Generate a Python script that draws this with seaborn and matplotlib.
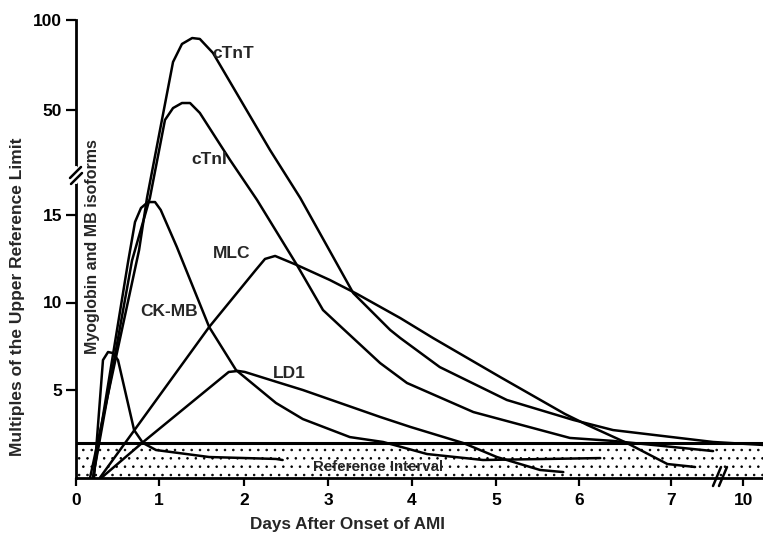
import numpy as np
import pandas as pd
import matplotlib
matplotlib.use("Agg")
import matplotlib.pyplot as plt
from matplotlib.lines import Line2D
import seaborn as sns

# ---------------- data (days after onset, multiples of URL) ----------------
ctnt_x = [0.17, 0.76, 0.855, 1.165, 1.27, 1.39, 1.48, 1.635, 2.31, 2.67, 3.30, 3.74, 3.86, 4.33, 5.13, 5.93, 6.37, 8.75, 10.83]
ctnt_y = [0.0, 13.0, 15.97, 76.4, 86.4, 89.7, 89.2, 81.4, 31.0, 15.97, 10.54, 8.43, 7.97, 6.31, 4.43, 3.29, 2.71, 2.03, 1.86]

ctni_x = [0.205, 0.675, 0.89, 1.07, 1.165, 1.27, 1.365, 1.48, 1.835, 2.155, 2.63, 2.94, 3.17, 3.62, 3.94, 4.73, 5.89, 6.37, 8.75]
ctni_y = [0.0, 12.4, 15.97, 45.1, 50.8, 53.6, 53.6, 48.4, 26.4, 15.86, 12.14, 9.57, 8.54, 6.54, 5.40, 3.74, 2.26, 2.09, 1.51]

ckmb_x = [0.205, 0.627, 0.711, 0.783, 0.867, 0.952, 1.02, 1.21, 1.59, 1.906, 2.38, 2.70, 3.26, 3.655, 4.18, 4.845, 6.23]
ckmb_y = [0.0, 12.31, 14.6, 15.4, 15.74, 15.74, 15.29, 13.17, 8.6, 6.14, 4.26, 3.34, 2.31, 2.03, 1.34, 1.0, 1.11]

mlc_x = [0.29, 1.59, 2.14, 2.25, 2.37, 2.63, 3.02, 3.345, 3.86, 4.25, 5.05, 5.83, 6.09, 6.52, 6.96, 8.0]
mlc_y = [0.0, 8.6, 11.86, 12.49, 12.66, 12.14, 11.29, 10.49, 9.11, 7.97, 5.74, 3.63, 3.0, 1.97, 0.77, 0.6]

ld1_x = [0.31, 0.81, 1.82, 1.93, 2.01, 2.39, 2.70, 3.62, 3.98, 4.61, 5.01, 5.53, 5.81]
ld1_y = [0.0, 2.03, 6.03, 6.09, 6.03, 5.46, 5.0, 3.46, 2.89, 1.97, 1.17, 0.43, 0.31]

myo_x = [0.217, 0.325, 0.386, 0.446, 0.506, 0.70, 0.807, 0.964, 1.59, 2.38, 2.46]
myo_y = [0.0, 6.71, 7.17, 7.11, 6.71, 2.71, 1.97, 1.57, 1.17, 1.06, 1.0]

x_ticks = [0, 1, 2, 3, 4, 5, 6, 7, 10]
x_tick_labels = ["0", "1", "2", "3", "4", "5", "6", "7", "10"]
y_ticks = [5, 10, 15, 50, 100]
y_tick_labels = ["5", "10", "15", "50", "100"]
ref_upper = 2.0

series = {"cTnT": (ctnt_x, ctnt_y), "cTnI": (ctni_x, ctni_y), "CK-MB": (ckmb_x, ckmb_y),
          "MLC": (mlc_x, mlc_y), "LD1": (ld1_x, ld1_y), "Myoglobin": (myo_x, myo_y)}
df = pd.concat([pd.DataFrame({"day": v[0], "mult": v[1], "marker": k}) for k, v in series.items()],
               ignore_index=True)

# ---------------- broken (piecewise linear) scales ----------------
xk_d = np.array([-10, 0, 1, 2, 3, 4, 5, 6, 7, 10, 50], float)
xk_p = np.array([-830, 0, 83, 168, 252, 336, 420, 503, 595, 667, 667 + 40 * 24], float)
yk_d = np.array([-10, 0, 17, 50, 100, 1000], float)
yk_p = np.array([-175, 0, 297.5, 368, 458, 458 + 900 * 1.8], float)

def fx(v): return np.interp(np.asarray(v, float), xk_d, xk_p)
def ix(v): return np.interp(np.asarray(v, float), xk_p, xk_d)
def fy(v): return np.interp(np.asarray(v, float), yk_d, yk_p)
def iy(v): return np.interp(np.asarray(v, float), yk_p, yk_d)

# ---------------- figure ----------------
sns.set_style("ticks")
plt.rcParams["font.family"] = ["Liberation Sans", "DejaVu Sans"]
plt.rcParams["font.weight"] = "bold"
plt.rcParams["hatch.linewidth"] = 0.6
plt.rcParams["hatch.color"] = "black"

W, H = 763, 536
fig = plt.figure(figsize=(W / 100, H / 100), dpi=100)
ax = fig.add_axes([76 / W, (H - 477.5) / H, (W - 76) / W, (477.5 - 19.5) / H])
ax.set_xscale("function", functions=(fx, ix))
ax.set_yscale("function", functions=(fy, iy))
ax.set_xlim(0, 10.83)
ax.set_ylim(0, 100)

ax.axhspan(0, ref_upper, facecolor="white", edgecolor="black", hatch="..", linewidth=0, zorder=0)
ax.axhline(ref_upper, color="black", lw=2.2, zorder=3)

sns.lineplot(data=df, x="day", y="mult", units="marker", estimator=None, sort=False,
             color="black", lw=1.8, legend=False, ax=ax)

for s in ["top", "right"]:
    ax.spines[s].set_visible(False)
for s in ["left", "bottom"]:
    ax.spines[s].set_linewidth(2.0)
    ax.spines[s].set_color("black")

ax.set_xticks(x_ticks)
ax.set_xticklabels(x_tick_labels)
ax.set_yticks(y_ticks)
ax.set_yticklabels(y_tick_labels)
ax.minorticks_off()
ax.tick_params(axis="x", length=6, width=1.6, pad=5, labelsize=12.5, colors="black")
ax.tick_params(axis="y", length=7, width=1.6, pad=3, labelsize=12.5, colors="black")

ax.set_xlabel("Days After Onset of AMI", fontsize=12.3, fontweight="bold")
ax.set_ylabel("Multiples of the Upper Reference Limit", fontsize=12.5, fontweight="bold")
ax.xaxis.set_label_coords((347 - 76) / 687, (477.5 - 524) / 458)
ax.xaxis.label.set_va("center")
ax.yaxis.set_label_coords((18 - 76) / 687, (477.5 - 297) / 458)
ax.yaxis.label.set_va("center")

def ft(px, py, s, **kw):
    fig.text(px / W, 1 - py / H, s, ha="center", va="center", fontsize=kw.pop("fontsize", 12.5),
             fontweight="bold", **kw)

ft(233, 53, "cTnT")
ft(209, 160, "cTnI")
ft(232, 254, "MLC")
ft(169, 312, "CK-MB")
ft(289, 373, "LD1")
ft(378, 467, "Reference Interval", fontsize=10.8)
ft(93, 247, "Myoglobin and MB isoforms", rotation=90, fontsize=11.5)

def seg(x1, y1, x2, y2, **kw):
    fig.add_artist(Line2D([x1 / W, x2 / W], [1 - y1 / H, 1 - y2 / H], **kw))

# axis break marks
seg(76, 168, 76, 182, color="white", lw=3)
seg(70, 178, 81, 167, color="black", lw=1.8)
seg(71, 184, 82, 173, color="black", lw=1.8)
seg(713, 486, 721, 467, color="black", lw=1.8)
seg(719, 486, 727, 467, color="black", lw=1.8)

fig.savefig("out.png", dpi=100)
